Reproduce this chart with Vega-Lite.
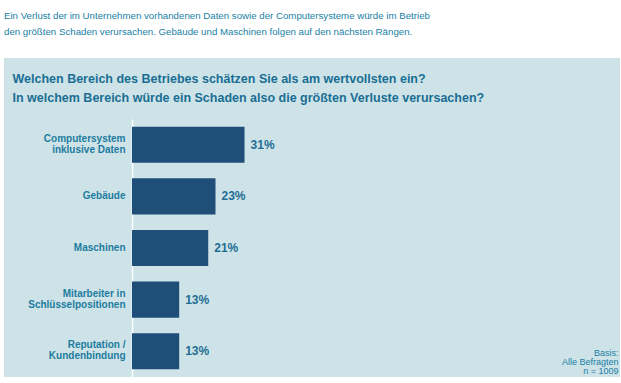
{
  "$schema": "https://vega.github.io/schema/vega-lite/v6.json",
  "width": 616,
  "height": 319,
  "autosize": {"type": "none"},
  "padding": {"left": 4, "top": 58, "right": 1, "bottom": 6},
  "background": "white",
  "title": {
    "text": ["Ein Verlust der im Unternehmen vorhandenen Daten sowie der Computersysteme würde im Betrieb", "den größten Schaden verursachen. Gebäude und Maschinen folgen auf den nächsten Rängen."],
    "anchor": "start",
    "frame": "group",
    "font": "Liberation Sans",
    "fontSize": 9.7,
    "fontWeight": "normal",
    "color": "#1a7fa3",
    "lineHeight": 16,
    "offset": 21
  },
  "config": {"view": {"fill": "#cde3e8", "stroke": null}},
  "data": {
    "values": [
      {"bereich": "Computersystem|inklusive Daten", "anteil": 0.31},
      {"bereich": "Gebäude", "anteil": 0.23},
      {"bereich": "Maschinen", "anteil": 0.21},
      {"bereich": "Mitarbeiter in|Schlüsselpositionen", "anteil": 0.13},
      {"bereich": "Reputation /|Kundenbindung", "anteil": 0.13}
    ]
  },
  "encoding": {
    "y": {
      "field": "bereich",
      "type": "nominal",
      "sort": null,
      "scale": {"range": [61, 319], "paddingInner": 0.3, "paddingOuter": 0.15},
      "axis": {
        "orient": "left",
        "offset": -128,
        "domainColor": "white",
        "domainWidth": 1.5,
        "ticks": false,
        "grid": false,
        "labelPadding": 7,
        "labelFont": "Liberation Sans",
        "labelFontWeight": "bold",
        "labelFontSize": 10,
        "labelColor": "#1d7b9e",
        "labelLineHeight": 11,
        "labelExpr": "split(datum.label, '|')",
        "labelOffset": {"condition": {"test": "indexof(datum.value, '|') >= 0", "value": -6}, "value": 0},
        "title": ["Welchen Bereich des Betriebes schätzen Sie als am wertvollsten ein?", "In welchem Bereich würde ein Schaden also die größten Verluste verursachen?"],
        "titleAngle": 0,
        "titleAlign": "left",
        "titleBaseline": "top",
        "titleX": -120,
        "titleY": 14,
        "titleFont": "Liberation Sans",
        "titleFontWeight": "bold",
        "titleFontSize": 12.5,
        "titleColor": "#1a6e93",
        "titleLineHeight": 19
      }
    },
    "x": {
      "field": "anteil",
      "type": "quantitative",
      "scale": {"domain": [0, 1], "range": [128, 491]},
      "axis": {
        "orient": "bottom",
        "labels": false,
        "ticks": false,
        "domain": false,
        "grid": false,
        "title": ["Basis:", "Alle Befragten", "n = 1009"],
        "titleX": 614,
        "titleY": -29,
        "titleAlign": "right",
        "titleAnchor": "end",
        "titleBaseline": "top",
        "titleFont": "Liberation Sans",
        "titleFontWeight": "normal",
        "titleFontSize": 9,
        "titleColor": "#1a7fa3",
        "titleLineHeight": 9
      }
    }
  },
  "layer": [
    {"mark": {"type": "bar", "color": "#1f4e79"}},
    {
      "mark": {"type": "text", "align": "left", "baseline": "middle", "dx": 6, "font": "Liberation Sans", "fontWeight": "bold", "fontSize": 12, "color": "#1f6d93"},
      "encoding": {"text": {"field": "anteil", "type": "quantitative", "format": ".0%"}}
    }
  ]
}
